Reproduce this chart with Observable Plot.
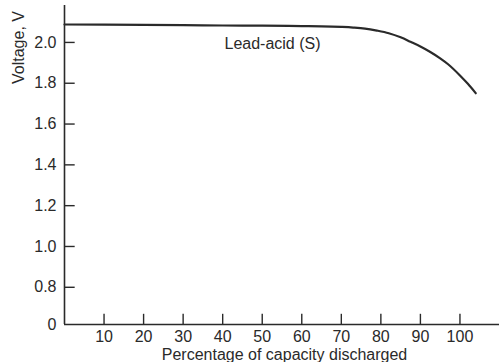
<!DOCTYPE html>
<html>
<head>
<meta charset="utf-8">
<script src="https://cdn.jsdelivr.net/npm/d3@7"></script>
<script src="https://cdn.jsdelivr.net/npm/@observablehq/plot@0.6"></script>
<style>
  html, body { margin: 0; padding: 0; background: #fff; }
  #chart svg { display: block; }
</style>
</head>
<body>
<div id="chart"></div>
<script>
// Data
const percentDischarged = [0, 10, 20, 30, 40, 50, 60, 65, 70, 73, 76, 79, 82, 85, 87.5, 90, 92.5, 95, 97, 100, 102, 104];
const voltage = [2.088, 2.087, 2.086, 2.085, 2.083, 2.082, 2.080, 2.079, 2.076, 2.073, 2.068, 2.058, 2.045, 2.025, 2.003, 1.980, 1.953, 1.922, 1.893, 1.838, 1.797, 1.751];

const xTicks = [10, 20, 30, 40, 50, 60, 70, 80, 90, 100];
const yTicks = [0.8, 1.0, 1.2, 1.4, 1.6, 1.8, 2.0];
const yBase = 0.6176;       // broken axis baseline, labelled "0"
const yBaseLabel = "0";
const seriesLabel = ["Lead-acid (S)"];
const seriesLabelX = [52.6];
const seriesLabelY = [1.995];

const data = percentDischarged.map((p, i) => ({p, v: voltage[i]}));
const ink = "#2a2a2a";
const font = "'Liberation Sans', Arial, Helvetica, sans-serif";

const chart = Plot.plot({
  width: 501,
  height: 362,
  marginLeft: 64,
  marginRight: 2,
  marginTop: 5,
  marginBottom: 38,
  style: {fontFamily: font, fontSize: "16px", color: ink, background: "#fff"},
  x: {domain: [0, 110]},
  y: {domain: [yBase, 2.181]},
  marks: [
    // axis lines
    Plot.ruleX([0], {stroke: ink, strokeWidth: 1.6}),
    Plot.ruleY([yBase], {stroke: ink, strokeWidth: 1.6}),
    // inward ticks
    Plot.ruleY(yTicks, {x1: 0, x2: 2.7, stroke: ink, strokeWidth: 1.4}),
    Plot.ruleX(xTicks, {y1: yBase, y2: yBase + 0.05, stroke: ink, strokeWidth: 1.4}),
    // tick labels
    Plot.axisY([yBase, ...yTicks], {
      tickSize: 0, tickPadding: 8, label: null,
      tickFormat: d => d === yBase ? yBaseLabel : d3.format(".1f")(d),
      fontSize: 16, fill: ink
    }),
    Plot.axisX(xTicks, {
      tickSize: 0, tickPadding: 6, label: null,
      tickFormat: d => String(d), fontSize: 16, fill: ink
    }),
    // axis titles
    Plot.text(["Voltage, V"], {
      frameAnchor: "top-left", rotate: -90, dx: -46, dy: 42,
      textAnchor: "middle", lineAnchor: "middle", fontSize: 16, fill: ink
    }),
    Plot.text(["Percentage of capacity discharged"], {
      frameAnchor: "bottom", dx: 2.5, dy: 30,
      textAnchor: "middle", lineAnchor: "middle", fontSize: 16, fill: ink
    }),
    // discharge curve
    Plot.line(data, {x: "p", y: "v", stroke: ink, strokeWidth: 2.2, curve: "monotone-x"}),
    // series label
    Plot.text(seriesLabel, {
      x: (d, i) => seriesLabelX[i], y: (d, i) => seriesLabelY[i],
      text: d => d, textAnchor: "middle", fontSize: 16, fill: ink
    })
  ]
});
document.getElementById("chart").appendChild(chart);
</script>
</body>
</html>
